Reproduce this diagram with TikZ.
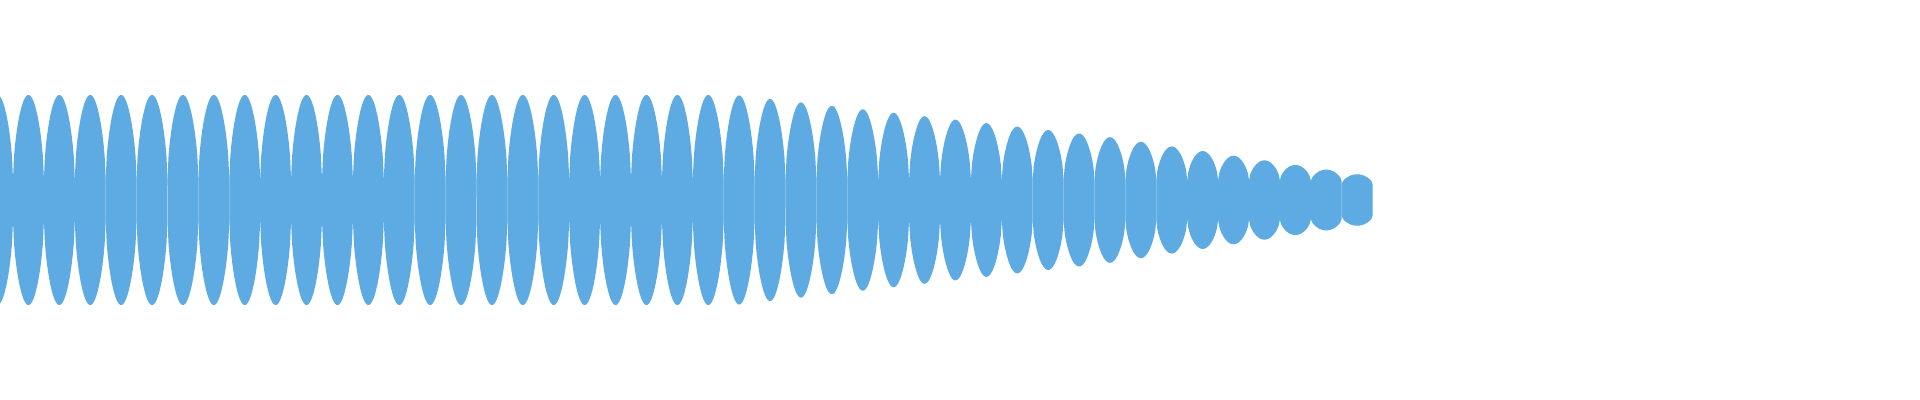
\documentclass[tikz,border=0pt]{standalone}
\definecolor{wavec}{RGB}{93,171,226}
\tikzset{wave/.style={fill=wavec}}
\begin{document}
\begin{tikzpicture}[x=0.01cm,y=-0.01cm]
\useasboundingbox (0,0) rectangle (1920,400);
\clip (0,0) rectangle (1920,400);
\foreach \i in {0,...,44}{
 \pgfmathsetmacro\xa{13+30.9*(\i-1)}
 \pgfmathsetmacro\xm{\xa+15.45}
 \pgfmathsetmacro\A{\xm<735 ? 105 : (\xm<1102 ? 105-(\xm-735)*0.112 : 64-(\xm-1102)*0.15)}
 \pgfmathsetmacro\b{min(19,0.6*\A)}
 \fill[wave] plot[domain=0:1,samples=31] ({\xa+30.9*\x},{200+\b+(\A-\b)*max(sin(180*\x),0.001)^0.55}) -- plot[domain=1:0,samples=31] ({\xa+30.9*\x},{200-\b-(\A-\b)*max(sin(180*\x),0.001)^0.55}) -- cycle;
}
\end{tikzpicture}
\end{document}
